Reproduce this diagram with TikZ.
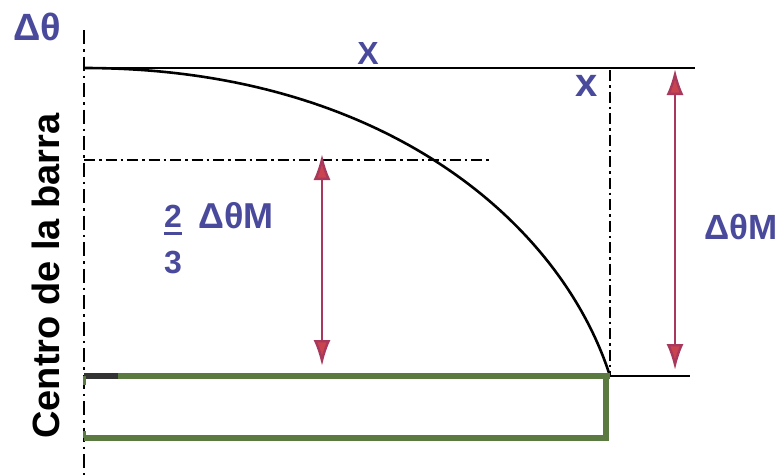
\documentclass[tikz,border=0pt]{standalone}
\usepackage{fontspec}
\setsansfont{Liberation Sans}
\usepackage{tikz}
\usepackage{xcolor}
\usetikzlibrary{arrows.meta}

\definecolor{labelblue}{HTML}{4A4A9C}
\definecolor{bargreen}{HTML}{5B7A42}
\definecolor{arrowred}{HTML}{A8385C}
\definecolor{headred}{HTML}{C9444E}

\newcommand{\lblsize}[1]{\sffamily\bfseries\fontsize{#1}{#1}\selectfont}

\tikzset{
  lbl/.style={text=labelblue, inner sep=0pt},
  axisline/.style={line width=2.5pt, dash pattern=on 14pt off 5pt on 2.5pt off 5pt},
  guide/.style={line width=2pt, dash pattern=on 11pt off 4pt on 2.5pt off 4pt},
  dimarrow/.style={arrowred, line width=2.4pt,
    {Latex[length=26pt,width=17pt,fill=headred]}-{Latex[length=26pt,width=17pt,fill=headred]}},
  bar/.style={bargreen, line width=6.5pt}
}

\begin{document}
\begin{tikzpicture}[x=1pt, y=-1pt]
\useasboundingbox (0,0) rectangle (783,475);

% centre line of the bar and reference lines
\coordinate (axtop) at (84,30);
\coordinate (axbot) at (84,475);
\draw[axisline] (axtop) -- (axbot);
\coordinate (tl) at (84,68);
\coordinate (tr) at (695,68);
\draw[line width=2.6pt] (tl) -- (tr);

% deflection curve
\coordinate (tip) at (610,376);
\draw[line width=2.6pt] (tl) .. controls (380,68) and (560,220) .. (tip);

% guide lines
\coordinate (hl) at (84,160);
\coordinate (hr) at (490,160);
\draw[guide] (hl) -- (hr);
\coordinate (vtop) at (610,70);
\draw[guide] (vtop) -- (tip);

% bottom reference
\coordinate (br) at (690,376);
\draw[line width=2.6pt] (tip) -- (br);

% the bar
\coordinate (b1) at (84,376);
\coordinate (b2) at (118,376);
\coordinate (b3) at (84,438);
\coordinate (b4) at (606,438);
\coordinate (b5) at (606,376);
\draw[line width=6.5pt, black!80] (b1) -- (b2);
\draw[bar] (b2) -- (tip);
\draw[bar] (b3) -- (b4) -- (b5);
\draw[bargreen, line width=3pt] (b1) -- ++(0,9);
\draw[bargreen, line width=3pt] (b3) -- ++(0,-7);

% dimension arrows
\coordinate (a1t) at (322,154);
\coordinate (a1b) at (322,366);
\draw[dimarrow] (a1t) -- (a1b);
\coordinate (a2t) at (675,69);
\coordinate (a2b) at (675,370);
\draw[dimarrow] (a2t) -- (a2b);

% labels
\node[lbl, font=\lblsize{38}] (dth) at (37,27) {Δθ};
\node[lbl, font=\lblsize{32}] (bigx) at (368,53) {X};
\node[lbl, font=\lblsize{40}] (smx) at (587,86) {x};
\node[lbl, font=\lblsize{36}] (twothirds) at (236,216) {ΔθM};
\node[lbl, font=\lblsize{32}] (num) at (173,216) {2};
\node[lbl, font=\lblsize{32}] (den) at (173,262) {3};
\draw[labelblue, line width=3pt] ([yshift=-6pt]num.south west) -- ([yshift=-6pt]num.south east);
\node[lbl, font=\lblsize{35}] (dthm) at (741,227) {ΔθM};
\node[rotate=90, font=\lblsize{38}, inner sep=0pt] (centro) at (46,276) {Centro de la barra};
\end{tikzpicture}
\end{document}
